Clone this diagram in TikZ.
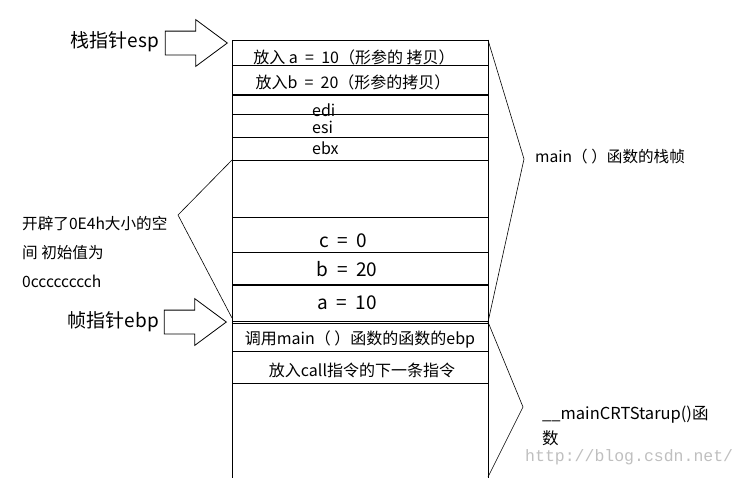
\documentclass[tikz,border=0pt]{standalone}
\usepackage{fontspec}
\setmainfont{Noto Sans CJK SC}
\newfontfamily\wmfont{Liberation Mono}
\usetikzlibrary{positioning, shapes.arrows, calc}
\tikzset{
  cell/.style={font=\fontsize{16}{18}\selectfont, inner sep=0pt},
  val/.style={font=\fontsize{19}{22}\selectfont, inner sep=0pt},
  reg/.style={font=\fontsize{16}{17}\selectfont, inner sep=0pt, anchor=west},
  ptr/.style={single arrow, draw=black, fill=white, line width=0.8pt, minimum height=62pt,
              text height=23pt, text depth=0pt, single arrow head extend=11.5pt,
              single arrow tip angle=73, inner sep=0pt, anchor=tip},
  ptrlbl/.style={font=\fontsize{19}{22}\selectfont, anchor=east, inner sep=0pt},
  note/.style={font=\fontsize{15.6}{29}\selectfont, anchor=west, align=left, inner sep=0pt},
  brc/.style={line width=0.6pt},
  sep/.style={line width=0.8pt},
  septhick/.style={line width=1.8pt},
}
\newcommand\eqsp{\hspace{0.45em}=\hspace{0.45em}}
\begin{document}
\begin{tikzpicture}[x=1pt, y=-1pt]
  \useasboundingbox (0,0) rectangle (746,477);
  % stack outline
  \draw[sep] (232,40) -- (232,480);
  \draw[sep] (488,40) -- (488,480);
  \foreach \y in {40,65,114,137,160,217,252,321,351,383}
    \draw[sep] (232,\y) -- (488,\y);
  \foreach \y in {95,285,323.5}
    \draw[septhick] (232,\y) -- (488,\y);
  % stack contents
  \node[cell] (arga) at (354,57) {放入 a\eqsp10（形参的 拷贝）};
  \node[cell] (argb) at (353,82) {放入b\eqsp20（形参的拷贝）};
  \node[reg] (edi) at (312,110) {edi};
  \node[reg] (esi) at (312,127) {esi};
  \node[reg] (ebx) at (312,148) {ebx};
  \node[val] (varc) at (343,241) {c\eqsp0};
  \node[val] (varb) at (347,269) {b\eqsp20};
  \node[val] (vara) at (347,303) {a\eqsp10};
  \node[cell] (oldebp) at (360,339) {调用main（ ）函数的函数的ebp};
  \node[cell] (retaddr) at (362,370) {放入call指令的下一条指令};
  % pointers
  \node[ptr] (esp) at (228,43) {};
  \node[ptrlbl] (esplbl) at (159,42) {栈指针esp};
  \node[ptr] (ebp) at (227,322) {};
  \node[ptrlbl] (ebplbl) at (159,322) {帧指针ebp};
  % braces
  \coordinate (fa) at (232,160); \coordinate (fb) at (178,215); \coordinate (fc) at (232,318);
  \draw[brc] (fa) -- (fb) -- (fc);
  \node[note] (space) at (22,252) {开辟了0E4h大小的空\\间 初始值为\\0cccccccch};
  \coordinate (ma) at (488,40); \coordinate (mb) at (524,159); \coordinate (mc) at (488,322);
  \draw[brc] (ma) -- (mb) -- (mc);
  \node[note] (mainfrm) at (535,157) {main（ ）函数的栈帧};
  \coordinate (ca) at (488,322); \coordinate (cb) at (523,407); \coordinate (cc) at (488,477);
  \draw[brc] (ca) -- (cb) -- (cc);
  \node[note, font=\fontsize{16.5}{25}\selectfont] (crtfrm) at (542,425.5) {\_\_mainCRTStarup()函\\数};
  % watermark
  \node[anchor=west, inner sep=0pt, text=black!25, font=\wmfont\fontsize{16.5}{18}\selectfont] (wm) at (525,457) {http://blog.csdn.net/};
\end{tikzpicture}
\end{document}
